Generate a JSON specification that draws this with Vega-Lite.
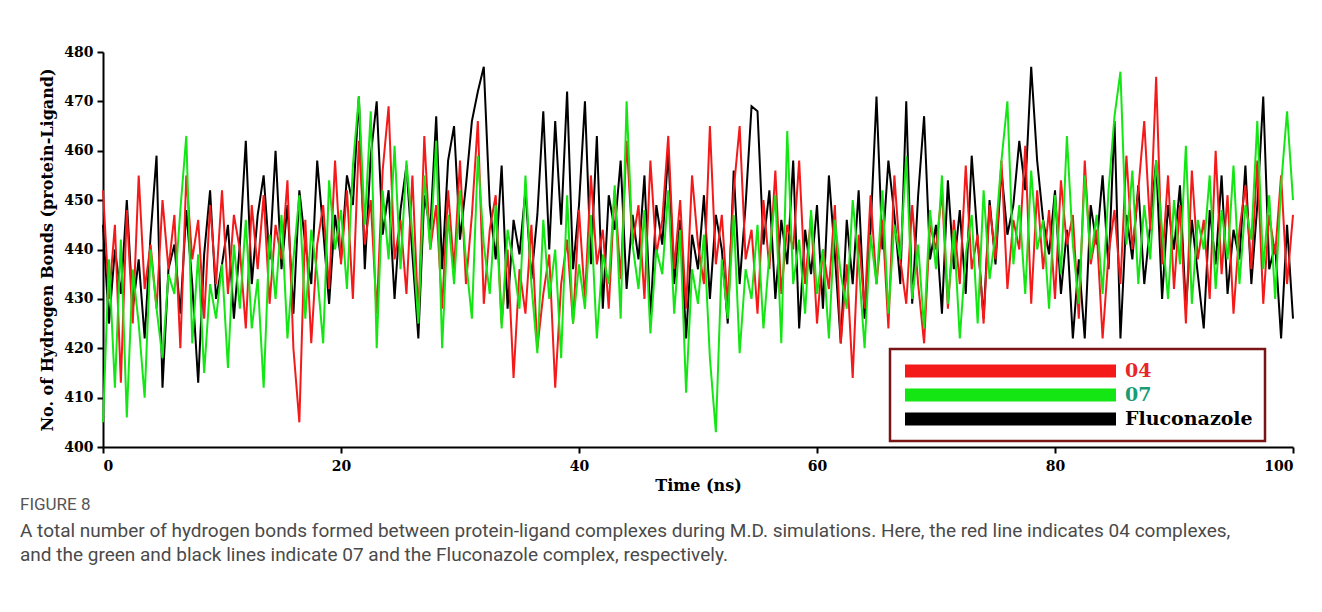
{
"$schema": "https://vega.github.io/schema/vega-lite/v6.json",
"width": 1190, "height": 395,
"autosize": {"type": "none"},
"padding": {"left": 103, "top": 52, "right": 29, "bottom": 165},
"background": "white",
"config": {
  "view": {"stroke": null},
  "axis": {"domainColor": "#000", "domainWidth": 2, "tickColor": "#000", "tickWidth": 2, "tickSize": 6, "labelFont": "DejaVu Serif", "labelFontWeight": "bold", "labelFontSize": 14, "labelColor": "#000", "titleFont": "DejaVu Serif", "titleFontWeight": "bold", "titleFontSize": 16, "titleColor": "#000", "grid": false}
},
"title": {
  "text": "FIGURE 8",
  "subtitle": ["A total number of hydrogen bonds formed between protein-ligand complexes during M.D. simulations. Here, the red line indicates 04 complexes,", "and the green and black lines indicate 07 and the Fluconazole complex, respectively."],
  "orient": "bottom", "anchor": "start", "frame": "group", "dx": -83, "offset": 4,
  "font": "Roboto", "fontSize": 17, "fontWeight": "normal", "color": "#555555",
  "subtitleFont": "Roboto", "subtitleFontSize": 19, "subtitleColor": "#4a4a4a", "subtitleLineHeight": 24, "subtitlePadding": 8
},
"datasets": {
"d04": [{"t":0,"v":452},{"t":0.5,"v":430},{"t":1,"v":445},{"t":1.5,"v":413},{"t":2,"v":448},{"t":2.5,"v":425},{"t":3,"v":455},{"t":3.5,"v":432},{"t":4,"v":441},{"t":4.5,"v":428},
{"t":5,"v":450},{"t":5.5,"v":436},{"t":6,"v":447},{"t":6.5,"v":420},{"t":7,"v":455},{"t":7.5,"v":438},{"t":8,"v":446},{"t":8.5,"v":426},{"t":9,"v":449},{"t":9.5,"v":433},
{"t":10,"v":452},{"t":10.5,"v":431},{"t":11,"v":447},{"t":11.5,"v":440},{"t":12,"v":424},{"t":12.5,"v":449},{"t":13,"v":436},{"t":13.5,"v":451},{"t":14,"v":429},{"t":14.5,"v":445},
{"t":15,"v":438},{"t":15.5,"v":454},{"t":16,"v":420},{"t":16.5,"v":405},{"t":17,"v":446},{"t":17.5,"v":421},{"t":18,"v":441},{"t":18.5,"v":449},{"t":19,"v":432},{"t":19.5,"v":458},
{"t":20,"v":437},{"t":20.5,"v":452},{"t":21,"v":430},{"t":21.5,"v":462},{"t":22,"v":441},{"t":22.5,"v":450},{"t":23,"v":427},{"t":23.5,"v":456},{"t":24,"v":469},{"t":24.5,"v":438},
{"t":25,"v":446},{"t":25.5,"v":431},{"t":26,"v":455},{"t":26.5,"v":426},{"t":27,"v":463},{"t":27.5,"v":440},{"t":28,"v":449},{"t":28.5,"v":428},{"t":29,"v":452},{"t":29.5,"v":436},
{"t":30,"v":458},{"t":30.5,"v":433},{"t":31,"v":447},{"t":31.5,"v":466},{"t":32,"v":429},{"t":32.5,"v":444},{"t":33,"v":451},{"t":33.5,"v":425},{"t":34,"v":440},{"t":34.5,"v":414},
{"t":35,"v":436},{"t":35.5,"v":427},{"t":36,"v":445},{"t":36.5,"v":420},{"t":37,"v":431},{"t":37.5,"v":439},{"t":38,"v":412},{"t":38.5,"v":433},{"t":39,"v":442},{"t":39.5,"v":425},
{"t":40,"v":448},{"t":40.5,"v":430},{"t":41,"v":455},{"t":41.5,"v":437},{"t":42,"v":444},{"t":42.5,"v":428},{"t":43,"v":452},{"t":43.5,"v":434},{"t":44,"v":462},{"t":44.5,"v":441},
{"t":45,"v":449},{"t":45.5,"v":430},{"t":46,"v":458},{"t":46.5,"v":439},{"t":47,"v":446},{"t":47.5,"v":463},{"t":48,"v":436},{"t":48.5,"v":450},{"t":49,"v":428},{"t":49.5,"v":455},
{"t":50,"v":441},{"t":50.5,"v":433},{"t":51,"v":465},{"t":51.5,"v":437},{"t":52,"v":447},{"t":52.5,"v":429},{"t":53,"v":452},{"t":53.5,"v":465},{"t":54,"v":438},{"t":54.5,"v":444},
{"t":55,"v":427},{"t":55.5,"v":450},{"t":56,"v":436},{"t":56.5,"v":456},{"t":57,"v":431},{"t":57.5,"v":445},{"t":58,"v":440},{"t":58.5,"v":458},{"t":59,"v":433},{"t":59.5,"v":447},
{"t":60,"v":425},{"t":60.5,"v":440},{"t":61,"v":432},{"t":61.5,"v":449},{"t":62,"v":421},{"t":62.5,"v":437},{"t":63,"v":414},{"t":63.5,"v":443},{"t":64,"v":428},{"t":64.5,"v":451},
{"t":65,"v":433},{"t":65.5,"v":446},{"t":66,"v":424},{"t":66.5,"v":455},{"t":67,"v":438},{"t":67.5,"v":429},{"t":68,"v":449},{"t":68.5,"v":433},{"t":69,"v":421},{"t":69.5,"v":445},
{"t":70,"v":440},{"t":70.5,"v":452},{"t":71,"v":428},{"t":71.5,"v":446},{"t":72,"v":433},{"t":72.5,"v":457},{"t":73,"v":436},{"t":73.5,"v":443},{"t":74,"v":425},{"t":74.5,"v":449},
{"t":75,"v":438},{"t":75.5,"v":458},{"t":76,"v":432},{"t":76.5,"v":446},{"t":77,"v":440},{"t":77.5,"v":461},{"t":78,"v":429},{"t":78.5,"v":452},{"t":79,"v":436},{"t":79.5,"v":448},
{"t":80,"v":430},{"t":80.5,"v":454},{"t":81,"v":441},{"t":81.5,"v":447},{"t":82,"v":426},{"t":82.5,"v":458},{"t":83,"v":437},{"t":83.5,"v":444},{"t":84,"v":422},{"t":84.5,"v":439},
{"t":85,"v":448},{"t":85.5,"v":433},{"t":86,"v":459},{"t":86.5,"v":440},{"t":87,"v":452},{"t":87.5,"v":466},{"t":88,"v":444},{"t":88.5,"v":475},{"t":89,"v":437},{"t":89.5,"v":455},
{"t":90,"v":432},{"t":90.5,"v":449},{"t":91,"v":425},{"t":91.5,"v":456},{"t":92,"v":438},{"t":92.5,"v":446},{"t":93,"v":430},{"t":93.5,"v":460},{"t":94,"v":435},{"t":94.5,"v":451},
{"t":95,"v":427},{"t":95.5,"v":444},{"t":96,"v":453},{"t":96.5,"v":436},{"t":97,"v":458},{"t":97.5,"v":429},{"t":98,"v":447},{"t":98.5,"v":439},{"t":99,"v":455},{"t":99.5,"v":433},
{"t":100,"v":447}],
"d07": [{"t":0,"v":405},{"t":0.5,"v":438},{"t":1,"v":412},{"t":1.5,"v":442},{"t":2,"v":406},{"t":2.5,"v":436},{"t":3,"v":425},{"t":3.5,"v":410},{"t":4,"v":440},{"t":4.5,"v":428},
{"t":5,"v":418},{"t":5.5,"v":435},{"t":6,"v":431},{"t":6.5,"v":448},{"t":7,"v":463},{"t":7.5,"v":421},{"t":8,"v":439},{"t":8.5,"v":415},{"t":9,"v":433},{"t":9.5,"v":426},
{"t":10,"v":437},{"t":10.5,"v":416},{"t":11,"v":441},{"t":11.5,"v":428},{"t":12,"v":446},{"t":12.5,"v":424},{"t":13,"v":434},{"t":13.5,"v":412},{"t":14,"v":443},{"t":14.5,"v":430},
{"t":15,"v":447},{"t":15.5,"v":422},{"t":16,"v":438},{"t":16.5,"v":451},{"t":17,"v":426},{"t":17.5,"v":444},{"t":18,"v":435},{"t":18.5,"v":421},{"t":19,"v":454},{"t":19.5,"v":440},
{"t":20,"v":448},{"t":20.5,"v":432},{"t":21,"v":457},{"t":21.5,"v":471},{"t":22,"v":445},{"t":22.5,"v":468},{"t":23,"v":420},{"t":23.5,"v":452},{"t":24,"v":438},{"t":24.5,"v":461},
{"t":25,"v":436},{"t":25.5,"v":458},{"t":26,"v":443},{"t":26.5,"v":425},{"t":27,"v":455},{"t":27.5,"v":440},{"t":28,"v":462},{"t":28.5,"v":420},{"t":29,"v":447},{"t":29.5,"v":433},
{"t":30,"v":452},{"t":30.5,"v":438},{"t":31,"v":426},{"t":31.5,"v":459},{"t":32,"v":441},{"t":32.5,"v":431},{"t":33,"v":449},{"t":33.5,"v":424},{"t":34,"v":444},{"t":34.5,"v":437},
{"t":35,"v":428},{"t":35.5,"v":455},{"t":36,"v":433},{"t":36.5,"v":419},{"t":37,"v":446},{"t":37.5,"v":430},{"t":38,"v":440},{"t":38.5,"v":418},{"t":39,"v":451},{"t":39.5,"v":425},
{"t":40,"v":437},{"t":40.5,"v":428},{"t":41,"v":447},{"t":41.5,"v":422},{"t":42,"v":439},{"t":42.5,"v":433},{"t":43,"v":453},{"t":43.5,"v":426},{"t":44,"v":470},{"t":44.5,"v":441},
{"t":45,"v":432},{"t":45.5,"v":448},{"t":46,"v":423},{"t":46.5,"v":440},{"t":47,"v":435},{"t":47.5,"v":452},{"t":48,"v":427},{"t":48.5,"v":444},{"t":49,"v":411},{"t":49.5,"v":436},
{"t":50,"v":429},{"t":50.5,"v":443},{"t":51,"v":418},{"t":51.5,"v":403},{"t":52,"v":438},{"t":52.5,"v":426},{"t":53,"v":447},{"t":53.5,"v":419},{"t":54,"v":436},{"t":54.5,"v":430},
{"t":55,"v":445},{"t":55.5,"v":424},{"t":56,"v":439},{"t":56.5,"v":451},{"t":57,"v":421},{"t":57.5,"v":464},{"t":58,"v":433},{"t":58.5,"v":442},{"t":59,"v":427},{"t":59.5,"v":448},
{"t":60,"v":431},{"t":60.5,"v":440},{"t":61,"v":422},{"t":61.5,"v":446},{"t":62,"v":435},{"t":62.5,"v":428},{"t":63,"v":450},{"t":63.5,"v":437},{"t":64,"v":420},{"t":64.5,"v":443},
{"t":65,"v":433},{"t":65.5,"v":452},{"t":66,"v":427},{"t":66.5,"v":445},{"t":67,"v":438},{"t":67.5,"v":459},{"t":68,"v":430},{"t":68.5,"v":441},{"t":69,"v":424},{"t":69.5,"v":448},
{"t":70,"v":436},{"t":70.5,"v":455},{"t":71,"v":429},{"t":71.5,"v":444},{"t":72,"v":422},{"t":72.5,"v":439},{"t":73,"v":447},{"t":73.5,"v":425},{"t":74,"v":452},{"t":74.5,"v":434},
{"t":75,"v":443},{"t":75.5,"v":458},{"t":76,"v":470},{"t":76.5,"v":437},{"t":77,"v":449},{"t":77.5,"v":431},{"t":78,"v":456},{"t":78.5,"v":440},{"t":79,"v":446},{"t":79.5,"v":428},
{"t":80,"v":451},{"t":80.5,"v":435},{"t":81,"v":463},{"t":81.5,"v":441},{"t":82,"v":429},{"t":82.5,"v":455},{"t":83,"v":438},{"t":83.5,"v":447},{"t":84,"v":431},{"t":84.5,"v":452},
{"t":85,"v":467},{"t":85.5,"v":476},{"t":86,"v":441},{"t":86.5,"v":456},{"t":87,"v":433},{"t":87.5,"v":449},{"t":88,"v":438},{"t":88.5,"v":458},{"t":89,"v":444},{"t":89.5,"v":430},
{"t":90,"v":450},{"t":90.5,"v":437},{"t":91,"v":461},{"t":91.5,"v":429},{"t":92,"v":446},{"t":92.5,"v":440},{"t":93,"v":455},{"t":93.5,"v":432},{"t":94,"v":448},{"t":94.5,"v":438},
{"t":95,"v":457},{"t":95.5,"v":433},{"t":96,"v":449},{"t":96.5,"v":442},{"t":97,"v":466},{"t":97.5,"v":436},{"t":98,"v":451},{"t":98.5,"v":430},{"t":99,"v":453},{"t":99.5,"v":468},
{"t":100,"v":450}],
"flu": [{"t":0,"v":445},{"t":0.5,"v":425},{"t":1,"v":440},{"t":1.5,"v":431},{"t":2,"v":450},{"t":2.5,"v":428},{"t":3,"v":438},{"t":3.5,"v":422},{"t":4,"v":443},{"t":4.5,"v":459},
{"t":5,"v":412},{"t":5.5,"v":436},{"t":6,"v":441},{"t":6.5,"v":427},{"t":7,"v":448},{"t":7.5,"v":433},{"t":8,"v":413},{"t":8.5,"v":439},{"t":9,"v":452},{"t":9.5,"v":430},
{"t":10,"v":437},{"t":10.5,"v":445},{"t":11,"v":426},{"t":11.5,"v":441},{"t":12,"v":462},{"t":12.5,"v":433},{"t":13,"v":447},{"t":13.5,"v":455},{"t":14,"v":438},{"t":14.5,"v":460},
{"t":15,"v":436},{"t":15.5,"v":449},{"t":16,"v":427},{"t":16.5,"v":452},{"t":17,"v":441},{"t":17.5,"v":433},{"t":18,"v":458},{"t":18.5,"v":444},{"t":19,"v":429},{"t":19.5,"v":447},
{"t":20,"v":438},{"t":20.5,"v":455},{"t":21,"v":449},{"t":21.5,"v":471},{"t":22,"v":436},{"t":22.5,"v":459},{"t":23,"v":470},{"t":23.5,"v":443},{"t":24,"v":452},{"t":24.5,"v":430},
{"t":25,"v":448},{"t":25.5,"v":457},{"t":26,"v":439},{"t":26.5,"v":422},{"t":27,"v":451},{"t":27.5,"v":444},{"t":28,"v":467},{"t":28.5,"v":436},{"t":29,"v":458},{"t":29.5,"v":465},
{"t":30,"v":442},{"t":30.5,"v":453},{"t":31,"v":466},{"t":31.5,"v":472},{"t":32,"v":477},{"t":32.5,"v":449},{"t":33,"v":438},{"t":33.5,"v":457},{"t":34,"v":428},{"t":34.5,"v":446},
{"t":35,"v":439},{"t":35.5,"v":452},{"t":36,"v":434},{"t":36.5,"v":447},{"t":37,"v":468},{"t":37.5,"v":440},{"t":38,"v":466},{"t":38.5,"v":445},{"t":39,"v":472},{"t":39.5,"v":436},
{"t":40,"v":449},{"t":40.5,"v":470},{"t":41,"v":437},{"t":41.5,"v":463},{"t":42,"v":428},{"t":42.5,"v":451},{"t":43,"v":444},{"t":43.5,"v":458},{"t":44,"v":432},{"t":44.5,"v":447},
{"t":45,"v":438},{"t":45.5,"v":455},{"t":46,"v":426},{"t":46.5,"v":449},{"t":47,"v":441},{"t":47.5,"v":460},{"t":48,"v":433},{"t":48.5,"v":446},{"t":49,"v":422},{"t":49.5,"v":443},
{"t":50,"v":436},{"t":50.5,"v":451},{"t":51,"v":430},{"t":51.5,"v":447},{"t":52,"v":440},{"t":52.5,"v":425},{"t":53,"v":456},{"t":53.5,"v":433},{"t":54,"v":449},{"t":54.5,"v":469},
{"t":55,"v":468},{"t":55.5,"v":441},{"t":56,"v":452},{"t":56.5,"v":430},{"t":57,"v":446},{"t":57.5,"v":437},{"t":58,"v":458},{"t":58.5,"v":424},{"t":59,"v":444},{"t":59.5,"v":435},
{"t":60,"v":449},{"t":60.5,"v":428},{"t":61,"v":455},{"t":61.5,"v":439},{"t":62,"v":421},{"t":62.5,"v":446},{"t":63,"v":433},{"t":63.5,"v":452},{"t":64,"v":426},{"t":64.5,"v":444},
{"t":65,"v":471},{"t":65.5,"v":440},{"t":66,"v":458},{"t":66.5,"v":447},{"t":67,"v":433},{"t":67.5,"v":470},{"t":68,"v":429},{"t":68.5,"v":451},{"t":69,"v":467},{"t":69.5,"v":438},
{"t":70,"v":445},{"t":70.5,"v":427},{"t":71,"v":454},{"t":71.5,"v":436},{"t":72,"v":448},{"t":72.5,"v":431},{"t":73,"v":459},{"t":73.5,"v":442},{"t":74,"v":426},{"t":74.5,"v":450},
{"t":75,"v":437},{"t":75.5,"v":456},{"t":76,"v":443},{"t":76.5,"v":449},{"t":77,"v":462},{"t":77.5,"v":452},{"t":78,"v":477},{"t":78.5,"v":458},{"t":79,"v":446},{"t":79.5,"v":439},
{"t":80,"v":452},{"t":80.5,"v":431},{"t":81,"v":444},{"t":81.5,"v":422},{"t":82,"v":438},{"t":82.5,"v":422},{"t":83,"v":449},{"t":83.5,"v":441},{"t":84,"v":455},{"t":84.5,"v":436},
{"t":85,"v":466},{"t":85.5,"v":422},{"t":86,"v":447},{"t":86.5,"v":438},{"t":87,"v":453},{"t":87.5,"v":433},{"t":88,"v":445},{"t":88.5,"v":458},{"t":89,"v":430},{"t":89.5,"v":449},
{"t":90,"v":440},{"t":90.5,"v":453},{"t":91,"v":428},{"t":91.5,"v":446},{"t":92,"v":435},{"t":92.5,"v":424},{"t":93,"v":448},{"t":93.5,"v":437},{"t":94,"v":455},{"t":94.5,"v":431},
{"t":95,"v":444},{"t":95.5,"v":438},{"t":96,"v":457},{"t":96.5,"v":433},{"t":97,"v":449},{"t":97.5,"v":471},{"t":98,"v":436},{"t":98.5,"v":441},{"t":99,"v":422},{"t":99.5,"v":445},
{"t":100,"v":426}]
},
"encoding": {
  "x": {"field": "t", "type": "quantitative", "scale": {"domain": [0, 100], "nice": false},
        "axis": {"values": [0, 20, 40, 60, 80, 100], "title": "Time (ns)", "labelPadding": 6, "titlePadding": 4}},
  "y": {"field": "v", "type": "quantitative", "scale": {"domain": [400, 480], "nice": false, "zero": false},
        "axis": {"values": [400, 410, 420, 430, 440, 450, 460, 470, 480], "title": "No. of Hydrogen Bonds (protein-Ligand)", "labelPadding": 4, "titlePadding": 8}}
},
"layer": [
  {"data": {"name": "flu"}, "mark": {"type": "line", "strokeWidth": 2},
   "encoding": {"color": {"datum": "Fluconazole", "type": "nominal",
     "scale": {"domain": ["04", "07", "Fluconazole"], "range": ["#f41a1a", "#14e614", "#000000"]},
     "legend": {"title": null, "orient": "none", "legendX": 787, "legendY": 297, "direction": "vertical",
       "padding": 12, "symbolOffset": 3, "symbolType": "M-1,-0.65H20.1V0.65H-1Z", "symbolSize": 400, "symbolStrokeWidth": 0,
       "labelOffset": 200, "labelFont": "DejaVu Serif", "labelFontWeight": "bold", "labelFontSize": 19, "rowPadding": 4,
       "encode": {
         "legend": {"update": {"stroke": {"value": "#7a1515"}, "strokeWidth": {"value": 2.5}, "fill": {"value": "white"}}},
         "symbols": {"update": {"fill": {"scale": "color", "field": "value"}, "strokeWidth": {"value": 0}, "opacity": {"value": 1}}},
         "labels": {"update": {"fill": {"signal": "datum.value === '04' ? '#e8262a' : datum.value === '07' ? '#179c74' : '#000000'"}}}
       }}}}},
  {"data": {"name": "d04"}, "mark": {"type": "line", "strokeWidth": 2},
   "encoding": {"color": {"datum": "04", "type": "nominal"}}},
  {"data": {"name": "d07"}, "mark": {"type": "line", "strokeWidth": 2},
   "encoding": {"color": {"datum": "07", "type": "nominal"}}}
]
}
